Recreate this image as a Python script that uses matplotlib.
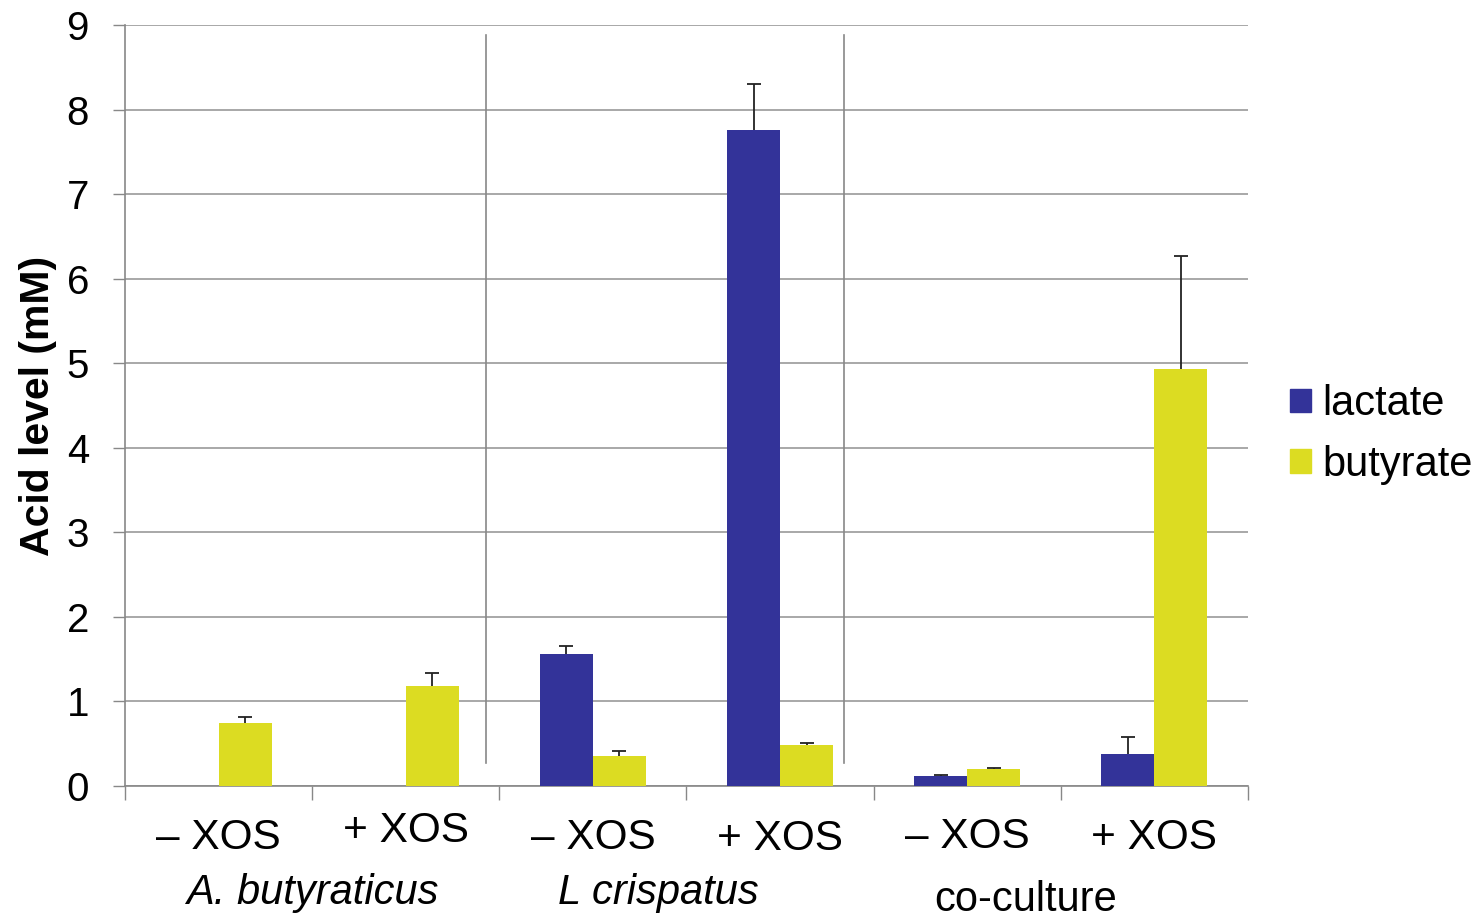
import numpy as np
import matplotlib
matplotlib.use("Agg")
import matplotlib.pyplot as plt
from matplotlib.patches import Patch

# data
conditions = ["\u2013 XOS", "+ XOS", "\u2013 XOS", "+ XOS", "\u2013 XOS", "+ XOS"]
groups = ["A. butyraticus", "L crispatus", "co-culture"]
lactate = [0.0, 0.0, 1.56, 7.76, 0.12, 0.38]
lactate_err = [0.0, 0.0, 0.10, 0.54, 0.01, 0.20]
butyrate = [0.74, 1.18, 0.35, 0.48, 0.20, 4.93]
butyrate_err = [0.08, 0.16, 0.06, 0.03, 0.01, 1.34]

plt.rcParams["font.family"] = ["Liberation Sans", "DejaVu Sans"]

fig = plt.figure(figsize=(14.8, 9.19), dpi=100)
ax = fig.add_axes([0.0845, 0.1447, 0.7587, 0.8281])

x = np.arange(len(conditions))
w = 0.283
ekw = dict(ecolor="#222222", elinewidth=1.3, capthick=1.3, zorder=4)
b1 = ax.bar(x - w / 2, lactate, w, color="#333399", zorder=3,
            yerr=[np.zeros(len(x)), lactate_err], capsize=5, error_kw=ekw)
b2 = ax.bar(x + w / 2, butyrate, w, color="#DCDC22", zorder=3,
            yerr=[np.zeros(len(x)), butyrate_err], capsize=5, error_kw=ekw)
# only the upper cap is shown
for b in (b1, b2):
    b.errorbar.lines[1][0].set_visible(False)
# no cap on the empty lactate bars
b1.errorbar.lines[1][1].set_markevery([j for j in range(len(x)) if lactate[j] > 0])

ax.set_xlim(-0.5, len(x) - 0.5)
ax.set_ylim(0, 9)
ax.set_yticks(range(0, 10))
ax.tick_params(axis="y", labelsize=29, length=9, width=1, color="#888888", pad=17)
ax.yaxis.grid(True, color="#999999", linewidth=1.2, zorder=0)

# category boundary ticks
ax.set_xticks(np.arange(-0.5, len(x), 1.0))
ax.set_xticklabels([])
ax.tick_params(axis="x", length=10, width=1, color="#888888")

for s in ["top", "right"]:
    ax.spines[s].set_visible(False)
for s in ["left", "bottom"]:
    ax.spines[s].set_color("#888888")
    ax.spines[s].set_linewidth(1.2)

# condition labels under each category
label_y = [-0.62, -0.53, -0.62, -0.63, -0.6, -0.62]
for xi, lab, ly in zip(x, conditions, label_y):
    ax.text(xi, ly, lab, ha="center", va="center", fontsize=30.5, clip_on=False)

# group labels
ax.text(0.5, -1.27, groups[0], ha="center", va="center", fontsize=30,
        style="italic", clip_on=False)
ax.text(2.35, -1.27, groups[1], ha="center", va="center", fontsize=30,
        style="italic", clip_on=False)
ax.text(4.31, -1.35, groups[2], ha="center", va="center", fontsize=30,
        clip_on=False)

# separators between organisms
for sx in [1.43, 3.34]:
    ax.plot([sx, sx], [0.27, 8.88], color="#888888", linewidth=1.2, zorder=2)

ax.set_ylabel("Acid level (mM)", fontsize=29.5, fontweight="bold")
ax.yaxis.set_label_coords(-0.061, 0.5)

handles = [Patch(color="#333399"), Patch(color="#DCDC22")]
fig.legend(handles, ["lactate", "butyrate"], loc="center left",
           bbox_to_anchor=(0.8716, 0.527), frameon=False, fontsize=30,
           handlelength=0.5, handleheight=0.5, handletextpad=0.27,
           labelspacing=0.5, borderpad=0, borderaxespad=0)

fig.savefig("out.png", dpi=100)
